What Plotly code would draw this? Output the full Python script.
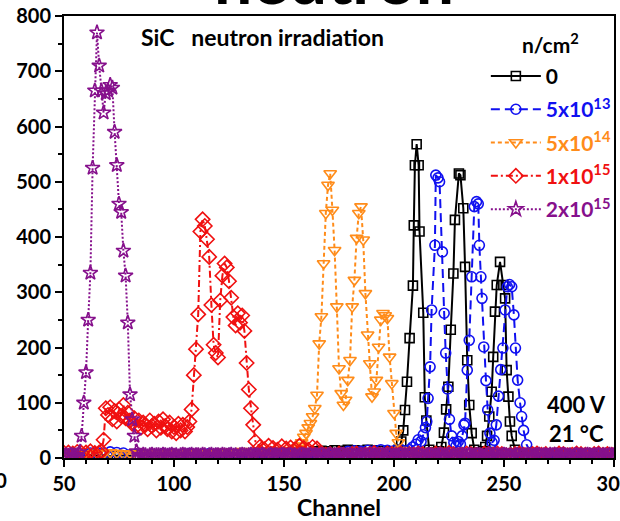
import plotly.graph_objects as go

# ---------------- data ----------------
legend_names = ["0", "5x10<sup>13</sup>", "5x10<sup>14</sup>", "1x10<sup>15</sup>", "2x10<sup>15</sup>"]

# 0 n/cm2 (black)
black_x = list(range(50, 200, 3)) + [
    200, 202, 203.3, 204.2, 205, 205.9, 207.1, 208.6, 209, 209.5, 210.3, 211.2, 211.6, 213.3, 214, 214.7,
    216, 217.5, 219, 220.5, 221.5, 222.7, 223.7, 224.7, 225.8, 227, 227.7, 229.5, 230.2, 231.5, 232.3,
    233.3, 234.2, 235.3, 236.5, 238, 239.5, 240.5, 241.5, 242.3, 243.3, 244.4, 245.1, 245.9, 246.7,
    248.2, 249.7, 250.5, 251.2, 252, 252.7, 253.5, 255, 257] + list(range(260, 301, 3))
black_y = [4, 5, 3, 4, 6, 4, 5, 3, 4, 5, 4, 6, 5, 3, 4, 5, 4, 3, 5, 6, 4, 5, 4, 3, 5,
           4, 6, 5, 4, 3, 5, 4, 6, 5, 4, 5, 3, 4, 12, 13, 12, 14, 13, 15, 14, 13, 15, 14, 13, 12] + [
    10, 15, 30, 50, 87, 138, 217, 312, 421, 530, 568, 530, 410, 263, 110, 68,
    15, 10, 8, 12, 20, 46, 88, 129, 232, 334, 431, 515, 512, 452, 346,
    177, 96, 45, 15, 10, 8, 12, 20, 40, 75, 120, 183, 265, 313,
    355, 313, 289, 159, 111, 66, 40, 15, 8] + [6, 5, 4, 5, 6, 4, 5, 3, 4, 5, 6, 4, 5, 4]

# 5x10^13 (blue)
blue_x = list(range(50, 205, 3)) + [
    205.5, 207, 208.5, 210, 211, 212.3, 213.3, 214.3, 214.9, 215.5, 216.4, 217.1, 218.6, 219, 220, 220.7,
    222, 222.8, 223.5, 224.3, 225.2, 226.2, 227.2, 228.2, 229.2, 230.2, 231, 231.8,
    232.3, 233.3, 234.2, 235.3, 236.5, 237.5, 238.3, 238.8, 239.5, 240, 240.8, 241.8, 242.6, 243.6, 244.6, 245.5,
    246.5, 247.5, 248.5, 249.5, 250.5, 251.5, 252.5, 253.5, 254.5, 255.2, 256.2, 257.3, 258, 258.9, 260.3, 262
] + list(range(265, 301, 3))
blue_y = [5, 6, 4, 5, 9, 10, 9, 11, 10, 9, 6, 7, 6, 5, 6, 8, 7, 6, 7, 8, 6, 7, 8, 7, 6, 8,
          7, 6, 8, 7, 6, 7, 8, 6, 7, 5, 6, 7, 8, 6, 7, 8, 9, 12, 13, 12, 14, 13, 15, 14, 13, 15] + [
    12, 15, 20, 25, 33, 30, 42, 55, 66, 108, 165, 268, 385, 512, 507, 500,
    373, 262, 190, 125, 70, 40, 28, 22, 30, 25, 40, 60,
    63, 159, 213, 328, 455, 464, 460, 385, 328, 289, 201, 140, 87, 45, 28, 32,
    60, 112, 160, 199, 268, 310, 314, 310, 259, 199, 141, 100, 75, 50, 24, 10
] + [7, 6, 5, 6, 7, 5, 6, 5, 4, 6, 5, 6]

# 5x10^14 (orange)
orange_x = list(range(50, 150, 3)) + list(range(150, 204)) + list(range(206, 300, 3))
orange_y = [6, 7, 5, 6, 8, 9, 8, 10, 9, 7, 8, 6, 7, 6, 8, 7, 6, 8, 9, 8, 10, 9, 8, 10,
            11, 9, 10, 12, 11, 10, 12, 11, 13, 12] + [
    8, 10, 9, 12, 14, 13, 18, 22, 28, 38, 45, 55, 63, 75, 90, 114, 207, 256, 352, 443,
    494, 515, 449, 376, 274, 162, 117, 96, 105, 141, 177, 274, 322, 398, 443, 455, 395,
    298, 223, 171, 111, 120, 141, 201, 250, 262, 258, 253, 183, 135, 81, 45, 28, 14] + [
    6, 5, 7, 6, 5, 6, 4, 5, 6, 5, 4, 6, 5, 6, 4, 5, 6, 5, 4, 5, 6, 4, 5, 6, 5, 4, 5, 6, 4, 5, 6, 5]

# 1x10^15 (red)
red_x = list(range(50, 68, 2)) + list(range(67, 138)) + list(range(139, 300, 2))
red_y = [9, 10, 8, 11, 9, 10, 12, 9, 10] + [
    12, 33, 90, 78, 92, 70, 85, 66, 88, 76, 96, 72, 82, 68, 62, 72, 58, 68, 55, 64,
    60, 52, 68, 58, 62, 50, 66, 55, 70, 58, 52, 64, 48, 56, 45, 62, 50, 60, 48, 56,
    66, 88, 150, 197, 260, 410, 432, 420, 396, 364, 277, 205, 190, 182, 285, 330, 352,
    345, 320, 290, 255, 240, 262, 245, 258, 230, 172, 124, 90, 60, 30] + [
    20, 16, 22, 18, 15, 21, 17, 19, 16, 22, 18, 15, 20, 17,
    8, 6, 7, 5, 8, 6, 5, 7, 8, 5, 6, 7, 9, 6, 5, 8, 7, 6, 8, 5, 7, 6,
    8, 7, 5, 6, 8, 7, 6, 9, 7, 5, 6, 8, 7, 6, 5, 8, 7, 6, 8, 7, 5, 6,
    7, 8, 6, 5, 7, 8, 6, 7, 5, 6, 8, 7, 5, 6, 8, 7, 6, 5, 7, 8, 6, 7, 6]

# 2x10^15 (purple)
purple_x = [50, 51, 52, 53, 54, 55, 56] + list(range(57, 84)) + list(range(84, 301))
purple_y = [4, 5, 4, 6, 5, 4, 5] + [
    10, 40, 100, 155, 250, 335, 525, 665, 770, 710, 665, 625, 660, 665, 675, 670, 590,
    530, 460, 445, 375, 330, 245, 115, 70, 40, 12] + [
    5, 4, 6, 5, 3, 5, 6, 4, 5, 5, 4, 6, 5, 4, 5, 6, 4, 5, 3, 5, 6, 5, 4, 5, 6, 4, 5,
    5, 4, 6, 5, 3, 5, 6, 4, 5, 5, 4, 6, 5, 4, 5, 6, 4, 5, 3, 5, 6, 5, 4, 5, 6, 4, 5,
    5, 4, 6, 5, 3, 5, 6, 4, 5, 5, 4, 6, 5, 4, 5, 6, 4, 5, 3, 5, 6, 5, 4, 5, 6, 4, 5,
    5, 4, 6, 5, 3, 5, 6, 4, 5, 5, 4, 6, 5, 4, 5, 6, 4, 5, 3, 5, 6, 5, 4, 5, 6, 4, 5,
    4, 5, 6, 5, 4, 5, 6, 3, 5, 4, 5, 6, 5, 5, 4, 6, 5, 4, 5, 6, 5, 4, 3, 5, 6, 5, 4,
    4, 5, 6, 5, 4, 5, 6, 3, 5, 4, 5, 6, 5, 5, 4, 6, 5, 4, 5, 6, 5, 4, 3, 5, 6, 5, 4,
    6, 5, 4, 5, 6, 5, 4, 5, 3, 5, 6, 4, 5, 4, 5, 6, 5, 4, 5, 5, 6, 4, 5, 5, 4, 6, 5,
    6, 5, 4, 5, 6, 5, 4, 5, 3, 5, 6, 4, 5, 4, 5, 6, 5, 4, 5, 5, 6, 4, 5, 5, 4, 6, 5, 5]

x_ticks = [50, 100, 150, 200, 250, 300]
y_ticks = [0, 100, 200, 300, 400, 500, 600, 700, 800]

# ---------------- styling ----------------
FONT = "Lato"
colors = ["#000000", "#1010F0", "#FF8C1A", "#F01010", "#86108C"]
symbols = ["square-open", "circle-open", "triangle-down-open", "diamond-open", "star-open"]
dashes = ["solid", "9px,5px", "4px,3px", "7px,3px,2px,3px", "2px,2px"]
sizes = [9, 10, 11, 11, 11]
series = [(black_x, black_y), (blue_x, blue_y), (orange_x, orange_y), (red_x, red_y), (purple_x, purple_y)]

fig = go.Figure()
for i, (xs, ys) in enumerate(series):
    n = min(len(xs), len(ys))
    fig.add_trace(go.Scatter(
        x=xs[:n], y=ys[:n], mode="lines+markers",
        name=f'<span style="color:{colors[i]}">{legend_names[i]}</span>',
        legendgroup=f"g{i}",
        line=dict(color=colors[i], width=2, dash=dashes[i]),
        marker=dict(symbol=symbols[i], size=sizes[i], color=colors[i], line=dict(width=1.6, color=colors[i])),
    ))

axis_common = dict(
    showline=True, linewidth=2, linecolor="black", mirror=True,
    ticks="outside", ticklen=7, tickwidth=2, tickcolor="black",
    showgrid=False, zeroline=False, layer="below traces", ticklabeloverflow="allow",
    automargin=False,
    tickfont=dict(family=FONT, size=20, color="black", weight="bold"),
)

fig.update_layout(
    width=620, height=521,
    margin=dict(l=64, r=6, t=16, b=63, autoexpand=False),
    paper_bgcolor="white", plot_bgcolor="white",
    xaxis=dict(range=[50, 300], tickvals=x_ticks,
               minor=dict(dtick=10, ticklen=4, tickwidth=1.5, tickcolor="black", ticks="outside"),
               title=dict(text="Channel", font=dict(family=FONT, size=23, color="black", weight="bold"), standoff=6),
               **axis_common),
    yaxis=dict(range=[0, 800], tickvals=y_ticks,
               minor=dict(dtick=50, ticklen=4, tickwidth=1.5, tickcolor="black", ticks="outside"),
               **axis_common),
    legend=dict(x=0.767, y=0.91, xanchor="left", yanchor="top", bgcolor="rgba(0,0,0,0)",
                font=dict(family=FONT, size=21, weight="bold"), itemwidth=50, tracegroupgap=3),
    showlegend=True,
)

annots = [
    dict(text="n/cm<sup>2</sup>", x=0.884, y=0.939, xanchor="center", yanchor="middle", size=21),
    dict(text="SiC\u00a0\u00a0\u00a0neutron irradiation", x=0.136, y=0.952, xanchor="left", yanchor="middle", size=23),
    dict(text="400 V", x=0.932, y=0.120, xanchor="center", yanchor="middle", size=22),
    dict(text="21 °C", x=0.932, y=0.056, xanchor="center", yanchor="middle", size=22),
]
for a in annots:
    fig.add_annotation(text=a["text"], x=a["x"], y=a["y"], xref="paper", yref="paper",
                       xanchor=a["xanchor"], yanchor=a["yanchor"], showarrow=False,
                       font=dict(family=FONT, size=a["size"], color="black", weight="bold"))
# cut-off heading of the panel and neighbour label
fig.add_annotation(text="neutron", x=0.49, y=0.99, xref="paper", yref="paper", xanchor="center",
                   yanchor="bottom", showarrow=False,
                   font=dict(family=FONT, size=68, color="black", weight="bold"))
fig.add_annotation(text="300", x=-0.1, y=-0.05, xref="paper", yref="paper", xanchor="right",
                   yanchor="middle", showarrow=False,
                   font=dict(family=FONT, size=20, color="black", weight="bold"))

fig.write_html("out.html")
